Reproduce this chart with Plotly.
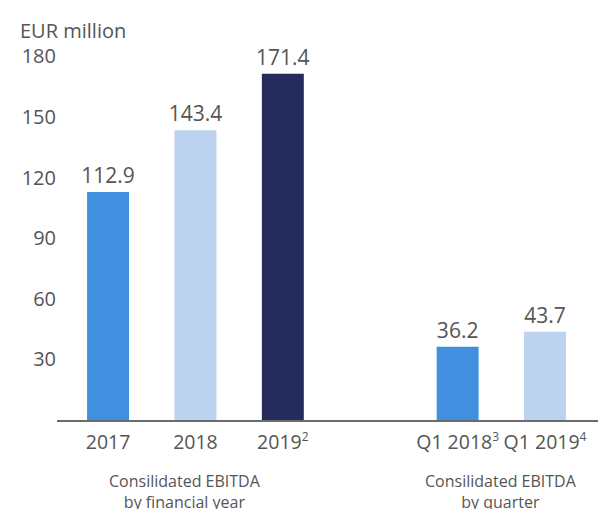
import plotly.graph_objects as go

categories = ["2017", "2018", "2019", "Q1 2018", "Q1 2019"]
footnotes = ["", "", "2", "3", "4"]
values = [112.9, 143.4, 171.4, 36.2, 43.7]
bar_colors = ["#4190DF", "#BDD2EE", "#252B5D", "#4190DF", "#BDD2EE"]
groups = [0, 0, 0, 1, 1]
group_labels = ["Consilidated EBITDA<br>by financial year", "Consilidated EBITDA<br>by quarter"]
y_ticks = [30, 60, 90, 120, 150, 180]
unit_label = "EUR million"

# x positions: one empty slot between groups
x_pos = [i + g for i, g in enumerate(groups)]
tick_text = [
    c + (f'<sup><span style="font-size:12px">{f}</span></sup>' if f else "")
    for c, f in zip(categories, footnotes)
]

FONT = "Open Sans"
TXT = "#555555"

fig = go.Figure(
    go.Bar(
        x=x_pos,
        y=values,
        width=0.48,
        marker=dict(color=bar_colors, line=dict(width=0)),
        text=[f"{v:.1f}" for v in values],
        textposition="outside",
        constraintext="none",
        textfont=dict(family=FONT, size=21, color=TXT),
        cliponaxis=False,
        hoverinfo="skip",
    )
)

fig.update_layout(
    width=598,
    height=509,
    margin=dict(l=57, r=0, t=20, b=89, autoexpand=False),
    paper_bgcolor="white",
    plot_bgcolor="white",
    showlegend=False,
    font=dict(family=FONT, color=TXT),
    uniformtext=dict(mode=False),
    xaxis=dict(
        range=[-0.584, 5.606],
        tickvals=x_pos,
        ticktext=tick_text,
        tickangle=0,
        automargin=False,
        tickfont=dict(family=FONT, size=19.5, color=TXT),
        showgrid=False,
        zeroline=False,
        showline=True,
        linecolor="#6b6b6b",
        linewidth=1.5,
        ticks="outside",
        ticklen=4,
        tickcolor="rgba(0,0,0,0)",
        fixedrange=True,
    ),
    yaxis=dict(
        range=[0, 198],
        tickvals=y_ticks,
        automargin=False,
        tickfont=dict(family=FONT, size=20, color=TXT),
        showgrid=False,
        zeroline=False,
        showline=False,
        ticks="",
        fixedrange=True,
    ),
)

for gi, label in enumerate(group_labels):
    members = [x for x, g in zip(x_pos, groups) if g == gi]
    center = sum(members) / len(members)
    fig.add_annotation(
        x=center,
        xref="x",
        xshift=-10 if gi == 0 else 0,
        y=-0.12,
        yref="paper",
        yanchor="top",
        text=label,
        showarrow=False,
        font=dict(family=FONT, size=16, color=TXT),
        align="center",
    )

fig.add_annotation(
    x=-0.072,
    xref="paper",
    xanchor="left",
    y=0.975,
    yref="paper",
    yanchor="middle",
    text=unit_label,
    showarrow=False,
    font=dict(family=FONT, size=20, color=TXT),
)

fig.write_html(
    "out.html",
    config={"displayModeBar": False},
    post_script="document.body.style.margin='0';document.body.style.overflow='hidden';",
)
